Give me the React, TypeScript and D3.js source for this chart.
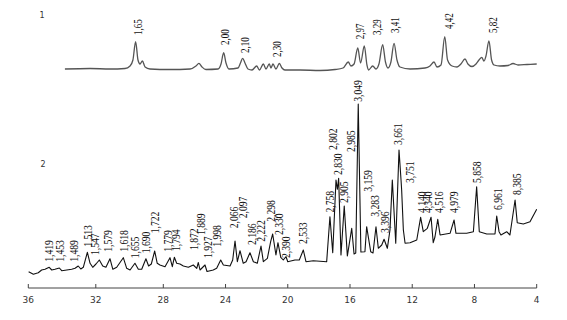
import React from "react";
import * as d3 from "d3";

// 2θ axis
const axisTicks = [36, 32, 28, 24, 20, 16, 12, 8, 4];

// Pattern 1: [2θ, intensity]
const pattern1: [number, number][] = [
  [33.83, 30], [32.34, 35], [31.16, 30], [30.27, 35], [29.97, 60], [29.8, 120], [29.64, 303], [29.5, 120],
  [29.38, 80], [29.24, 110], [29.08, 50], [28.79, 30], [27.57, 25], [26.28, 30], [25.9, 60], [25.71, 87],
  [25.51, 50], [25.26, 25], [24.48, 30], [24.29, 80], [24.12, 193], [23.97, 90], [23.78, 30], [23.2, 40],
  [23.04, 90], [22.9, 137], [22.75, 90], [22.56, 30], [22.3, 20], [22.0, 60], [21.82, 20], [21.57, 80],
  [21.4, 30], [21.19, 80], [21.08, 40], [20.95, 80], [20.76, 30], [20.54, 85], [20.37, 40], [20.18, 20],
  [19.21, 20], [17.93, 15], [16.96, 25], [16.45, 40], [16.11, 100], [15.94, 60], [15.74, 80], [15.5, 240],
  [15.32, 90], [15.08, 260], [14.91, 70], [14.81, 20], [14.54, 60], [14.33, 30], [14.14, 80], [13.9, 273],
  [13.72, 100], [13.56, 40], [13.37, 100], [13.17, 287], [12.98, 120], [12.79, 50], [12.14, 30], [11.18, 40],
  [10.86, 60], [10.6, 100], [10.41, 50], [10.15, 70], [9.91, 353], [9.73, 120], [9.44, 60], [9.12, 50],
  [8.87, 80], [8.61, 130], [8.42, 80], [8.16, 55], [7.9, 80], [7.71, 120], [7.53, 147], [7.39, 110],
  [7.26, 160], [7.07, 310], [6.9, 120], [6.74, 70], [6.36, 60], [5.84, 65], [5.52, 85], [5.2, 70],
  [4.62, 75], [4.0, 80],
];

// Pattern 2: [2θ, intensity]
const pattern2: [number, number][] = [
  [35.98, 3], [35.7, -23], [35.41, -7], [35.21, 20], [35.01, 27], [34.76, 47], [34.61, 20], [34.42, 27],
  [34.16, 40], [34.02, 13], [33.72, 20], [33.43, 27], [33.23, 37], [33.04, 60], [32.89, 30], [32.74, 47],
  [32.5, 197], [32.34, 87], [32.18, 47], [31.99, 80], [31.79, 120], [31.59, 60], [31.4, 47], [31.16, 133],
  [30.99, 27], [30.76, 47], [30.37, 143], [30.17, 37], [29.97, 20], [29.68, 87], [29.48, 27], [29.28, 27],
  [29.03, 133], [28.87, 60], [28.71, 80], [28.51, 210], [28.36, 87], [28.2, 70], [27.89, 53], [27.57, 143],
  [27.42, 53], [27.29, 147], [27.14, 87], [26.93, 80], [26.71, 60], [26.39, 47], [26.07, 70], [25.85, 37],
  [25.75, 95], [25.64, 20], [25.32, 70], [25.19, 5], [24.79, 20], [24.57, 37], [24.31, 120], [24.14, 70],
  [23.71, 60], [23.54, 120], [23.39, 310], [23.24, 103], [23.07, 213], [22.86, 87], [22.68, 103], [22.43, 193],
  [22.21, 103], [21.96, 87], [21.72, 260], [21.57, 103], [21.31, 137], [21.1, 303], [20.97, 380], [20.76, 170],
  [20.63, 293], [20.45, 147], [20.29, 120], [20.11, 153], [20.0, 103], [19.54, 120], [19.26, 120], [19.0, 220],
  [18.83, 103], [18.36, 113], [17.5, 103], [17.29, 553], [17.11, 193], [16.9, 920], [16.81, 827], [16.73, 937],
  [16.58, 170], [16.37, 660], [16.17, 160], [15.89, 437], [15.74, 180], [15.63, 190], [15.47, 1680], [15.3, 200],
  [15.04, 203], [14.93, 453], [14.67, 203], [14.52, 190], [14.33, 453], [14.18, 237], [13.96, 270], [13.81, 327],
  [13.6, 237], [13.43, 420], [13.28, 920], [13.06, 287], [12.85, 1220], [12.72, 920], [12.68, 820], [12.57, 420],
  [12.46, 287], [12.14, 293], [11.71, 320], [11.46, 547], [11.29, 403], [11.03, 437], [10.79, 547], [10.65, 293],
  [10.54, 350], [10.36, 527], [10.21, 370], [9.57, 387], [9.31, 520], [9.19, 387], [8.5, 387], [8.07, 403],
  [7.86, 853], [7.69, 403], [7.21, 380], [6.68, 380], [6.57, 560], [6.42, 403], [6.3, 370], [5.93, 403],
  [5.72, 370], [5.39, 720], [5.25, 493], [4.86, 480], [4.43, 503], [4.0, 627],
];

// Peak labels (d-spacing), anchored at [2θ, intensity]
const labels1Text = ["1,65", "2,00", "2,10", "2,30", "2,97", "3,29", "3,41", "4,42", "5,82"];
const labels1Anchor: [number, number][] = [
  [29.5, 370], [24.03, 270], [22.75, 190], [20.69, 150], [15.36, 327], [14.26, 370], [13.11, 390], [9.64, 430], [6.81, 390],
];

const labels2Text = [
  "1,419", "1,453", "1,489", "1,513", "1,547", "1,579", "1,618", "1,655", "1,690", "1,722",
  "1,779", "1,794", "1,872", "1,889", "1,927", "1,998", "2,066", "2,097", "2,186", "2,222",
  "2,298", "2,330", "2,390", "2,533", "2,758", "2,802", "2,830", "2,905", "2,985", "3,049",
  "3,159", "3,283", "3,396", "3,661", "3,751", "4,140", "4,340", "4,516", "4,979", "5,858",
  "6,961", "8,385",
];
const labels2Anchor: [number, number][] = [
  [34.81, 103], [34.12, 103], [33.29, 103], [32.5, 253], [32.05, 170], [31.26, 203], [30.37, 203], [29.68, 137], [29.04, 187], [28.49, 387],
  [27.68, 203], [27.2, 210], [26.07, 220], [25.58, 370], [25.11, 140], [24.57, 253], [23.5, 437], [22.86, 537], [22.32, 270], [21.72, 303],
  [21.1, 503], [20.56, 370], [20.11, 140], [19.02, 280], [17.29, 595], [17.09, 1220], [16.79, 970], [16.43, 690], [15.94, 1200], [15.53, 1703],
  [14.86, 803], [14.39, 553], [13.79, 390], [12.9, 1270], [12.14, 890], [11.39, 590], [10.97, 590], [10.32, 590], [9.3, 590], [7.86, 890],
  [6.47, 620], [5.29, 770],
];

const seriesNames = ["1", "2"];

export default function App() {
  const W = 567;
  const H = 320;
  const x = d3.scaleLinear().domain([36, 28, 4]).range([28.3, 163.3, 536.7]);
  const y1 = d3.scaleLinear().domain([0, 400]).range([72, 32]);
  const y2 = d3.scaleLinear().domain([0, 1700]).range([272, 102]);
  const axisY = 288;

  const line1 = d3
    .line<[number, number]>()
    .x((d) => x(d[0]))
    .y((d) => y1(d[1]))
    .curve(d3.curveMonotoneX);
  const line2 = d3
    .line<[number, number]>()
    .x((d) => x(d[0]))
    .y((d) => y2(d[1]));

  const serif = "'Liberation Serif', 'Times New Roman', serif";
  const sans = "'DejaVu Sans', Verdana, sans-serif";

  return (
    <div style={{ position: "absolute", left: 0, top: 0, width: W, height: H, background: "#fff" }}>
      <svg width={W} height={H} viewBox={`0 0 ${W} ${H}`}>
        <rect width={W} height={H} fill="#fff" />
        <text x={42} y={18} fontSize={8} fontFamily={sans} fill="#333" textAnchor="middle">
          {seriesNames[0]}
        </text>
        <text x={43} y={167} fontSize={8} fontFamily={sans} fill="#333" textAnchor="middle">
          {seriesNames[1]}
        </text>

        <path d={line1(pattern1) || ""} fill="none" stroke="#555" strokeWidth={1.3} strokeLinejoin="round" />
        <path d={line2(pattern2) || ""} fill="none" stroke="#111" strokeWidth={1.1} strokeLinejoin="round" />

        {labels1Text.map((t, i) => (
          <text
            key={"l1" + i}
            transform={`translate(${x(labels1Anchor[i][0])},${y1(labels1Anchor[i][1])}) rotate(-90) scale(0.75,1)`}
            dy="0.35em"
            fontSize={12}
            fontFamily={serif}
            fill="#111"
          >
            {t}
          </text>
        ))}
        {labels2Text.map((t, i) => (
          <text
            key={"l2" + i}
            transform={`translate(${x(labels2Anchor[i][0])},${y2(labels2Anchor[i][1])}) rotate(-90) scale(0.8,1)`}
            dy="0.35em"
            fontSize={12}
            fontFamily={serif}
            fill="#111"
          >
            {t}
          </text>
        ))}

        <line x1={x(36)} x2={x(4)} y1={axisY} y2={axisY} stroke="#444" strokeWidth={1} />
        {axisTicks.map((t) => (
          <g key={t} transform={`translate(${x(t)},0)`}>
            <line y1={axisY - 4} y2={axisY} stroke="#444" strokeWidth={1} />
            <text y={axisY + 15} fontSize={9} fontFamily={sans} fill="#333" textAnchor="middle">
              {t}
            </text>
          </g>
        ))}
      </svg>
    </div>
  );
}
